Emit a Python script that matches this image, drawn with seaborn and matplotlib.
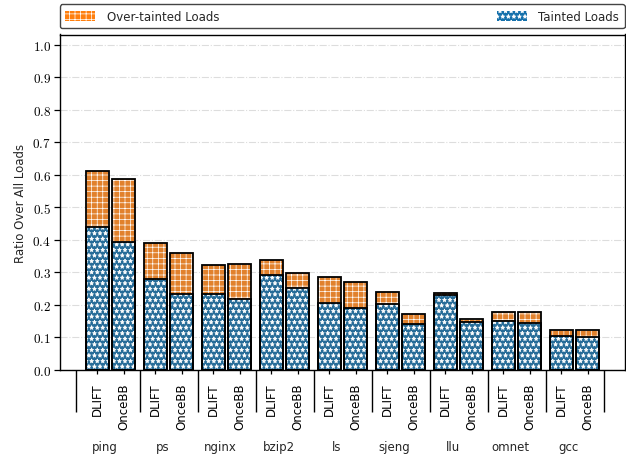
import matplotlib
matplotlib.use("Agg")
import matplotlib.pyplot as plt
import matplotlib.transforms as mtransforms
from matplotlib.patches import Patch, Rectangle
from matplotlib.ticker import FuncFormatter
import numpy as np
import pandas as pd
import seaborn as sns

# Benchmarks and tracking schemes
programs = ["ping", "ps", "nginx", "bzip2", "ls", "sjeng", "llu", "omnet", "gcc"]
schemes = ["DLIFT", "OnceBB"]

# Fraction of all loads that are tainted / over-tainted
tainted_dlift = [0.440, 0.281, 0.234, 0.292, 0.207, 0.204, 0.229, 0.150, 0.104]
tainted_oncebb = [0.393, 0.234, 0.217, 0.253, 0.190, 0.142, 0.149, 0.144, 0.101]
over_dlift = [0.170, 0.109, 0.088, 0.045, 0.080, 0.036, 0.008, 0.029, 0.019]
over_oncebb = [0.194, 0.126, 0.108, 0.044, 0.081, 0.030, 0.007, 0.034, 0.022]

y_ticks = [0.0, 0.1, 0.2, 0.3, 0.4, 0.5, 0.6, 0.7, 0.8, 0.9, 1.0]

ORANGE = "#ff7f0e"
BLUE = "#1470ab"

sns.set_theme(style="white")
plt.rcParams["font.family"] = ["DejaVu Sans"]
plt.rcParams["mathtext.fontset"] = "cm"
plt.rcParams["hatch.linewidth"] = 0.5

rows = []
for i, p in enumerate(programs):
    rows.append({"program": p, "scheme": "DLIFT", "tainted": tainted_dlift[i],
                 "total": tainted_dlift[i] + over_dlift[i]})
    rows.append({"program": p, "scheme": "OnceBB", "tainted": tainted_oncebb[i],
                 "total": tainted_oncebb[i] + over_oncebb[i]})
df = pd.DataFrame(rows)

fig, ax = plt.subplots(figsize=(6.26, 4.56), dpi=100)
fig.subplots_adjust(left=60 / 626, right=624.5 / 626, top=1 - 35.5 / 456, bottom=1 - 371 / 456)

bar_kw = dict(order=programs, hue_order=schemes, width=0.914, gap=0.13,
              legend=False, errorbar=None, ax=ax, linewidth=0)

# over-tainted part: full stack height, then tainted part drawn on top
sns.barplot(data=df, x="program", y="total", hue="scheme",
            palette=[ORANGE, ORANGE], **bar_kw)
n_total = len(ax.patches)
sns.barplot(data=df, x="program", y="tainted", hue="scheme",
            palette=[BLUE, BLUE], **bar_kw)

ORANGE_HATCH = "+++"
BLUE_HATCH = "***"

bars = list(ax.patches)
for k, b in enumerate(bars):
    b.set_edgecolor("white")
    b.set_linewidth(0)
    b.set_hatch(ORANGE_HATCH if k < n_total else BLUE_HATCH)
    b.set_zorder(2 if k < n_total else 3)

# black outlines around every segment
for k, b in enumerate(bars):
    ax.add_patch(Rectangle(b.get_xy(), b.get_width(), b.get_height(),
                           facecolor="none", edgecolor="black", linewidth=1.3,
                           zorder=4 if k < n_total else 5))

# axes
ax.set_ylim(0, 1.031)
ax.set_yticks(y_ticks)
ax.yaxis.set_major_formatter(FuncFormatter(lambda v, _: f"${v:.1f}$"))
ax.set_xlim(-0.871, 8.862)
ax.set_axisbelow(True)
ax.yaxis.grid(True, color="#dddddd", linestyle="-.", linewidth=0.8)
ax.xaxis.grid(False)
for s in ax.spines.values():
    s.set_visible(True)
    s.set_color("black")
    s.set_linewidth(1.0)

# per-bar labels
centers = sorted(b.get_x() + b.get_width() / 2 for b in bars[:n_total])
labels = [schemes[j % 2] for j in range(len(centers))]
ax.set_xticks(centers)
ax.set_xticklabels(labels, rotation=90, fontsize=8.5)
ax.set_xlabel("")
ax.tick_params(axis="x", which="major", direction="out", length=3, width=0.9,
               pad=6, bottom=True, top=False, colors="black")

# group separators as long minor ticks
seps = [-0.6] + [i + 0.5 for i in range(len(programs))]
ax.set_xticks(seps, minor=True)
ax.tick_params(axis="x", which="minor", direction="out", length=30, width=1.0,
               bottom=True, top=False, color="black")

ax.tick_params(axis="y", which="both", direction="out", length=4, width=0.9,
               pad=2.5, left=True, right=False, labelsize=9.5, colors="black")
ax.set_ylabel("Ratio Over All Loads", fontsize=8.5, labelpad=4)

trans = mtransforms.blended_transform_factory(ax.transData, ax.transAxes)
for i, p in enumerate(programs):
    ax.text(i - 0.1, -0.227, p, transform=trans, ha="center", va="center",
            fontsize=8.5)

# legend
handles = [Patch(facecolor=ORANGE, edgecolor="white", linewidth=0, hatch=ORANGE_HATCH,
                 label="Over-tainted Loads"),
           Patch(facecolor=BLUE, edgecolor="white", linewidth=0, hatch=BLUE_HATCH,
                 label="Tainted Loads")]
leg = ax.legend(handles=handles, loc="lower left", ncol=2, mode="expand",
                bbox_to_anchor=(0, 1.0194, 1, 0.0715), borderaxespad=0,
                fontsize=8.5, frameon=True, fancybox=True, framealpha=1,
                edgecolor="#444444", handlelength=2.5, handleheight=0.9,
                borderpad=0.45, handletextpad=1.0)
leg.get_frame().set_linewidth(1.0)

fig.savefig("out.png", dpi=100)
